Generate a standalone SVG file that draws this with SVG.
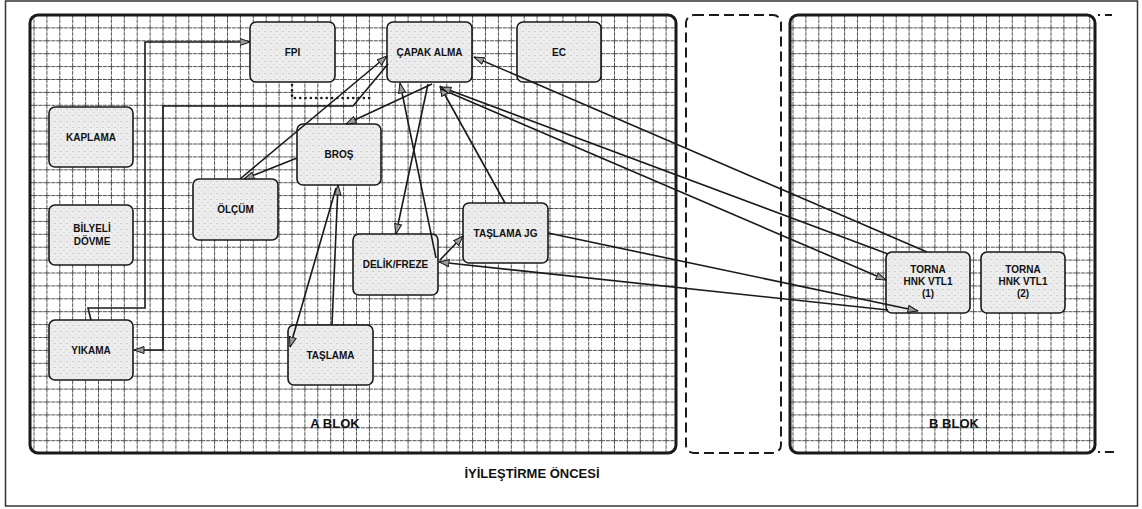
<svg xmlns="http://www.w3.org/2000/svg" width="1142" height="509" viewBox="0 0 1142 509">
<defs>
<style>
.frame{fill:#fff;stroke:#333;stroke-width:1.5}
.blk{stroke:#1a1a1a;stroke-width:3;}
.dash{fill:#fff;stroke:#1a1a1a;stroke-width:2;stroke-dasharray:10 5}
.node rect{fill:url(#stip);stroke:#1a1a1a;stroke-width:1.6}
.lbl{font-family:"Liberation Sans",Arial,sans-serif;font-weight:bold;font-size:10px;fill:#111;text-anchor:middle}
.big{font-family:"Liberation Sans",Arial,sans-serif;font-weight:bold;font-size:13px;fill:#111;text-anchor:middle}
.conn path{fill:none;stroke:#1a1a1a;stroke-width:1.6;marker-end:url(#arr)}
.conn path.dot{stroke-width:2.6;stroke-dasharray:0.1 5.2;stroke-linecap:round;marker-end:none}
</style>
<pattern id="gA" patternUnits="userSpaceOnUse" x="46.4" y="27.4" width="12.9" height="12.9">
<path d="M0,0.5 H12.9 M0.5,0 V12.9" stroke="#4d4d4d" stroke-width="1" stroke-dasharray="4 0.8" fill="none"/>
</pattern>
<pattern id="gB" patternUnits="userSpaceOnUse" x="805.4" y="27.4" width="12.9" height="12.9">
<path d="M0,0.5 H12.9 M0.5,0 V12.9" stroke="#4d4d4d" stroke-width="1" stroke-dasharray="4 0.8" fill="none"/>
</pattern>
<pattern id="stip" patternUnits="userSpaceOnUse" width="6" height="6">
<rect width="6" height="6" fill="#ededed"/>
<circle cx="1" cy="1.5" r="0.5" fill="#9a9a9a"/>
<circle cx="4" cy="4.2" r="0.45" fill="#aaa"/>
<circle cx="4.6" cy="1" r="0.35" fill="#bbb"/>
</pattern>
<marker id="arr" markerUnits="userSpaceOnUse" markerWidth="11" markerHeight="8" refX="10.5" refY="4" orient="auto">
<path d="M0.5,0.5 L10.5,4 L0.5,7.5 z" fill="#9a9a9a" stroke="#1a1a1a" stroke-width="1"/>
</marker>
</defs>

<rect class="frame" x="5.5" y="1" width="1132" height="505"/>

<g id="a-blok">
<rect x="30" y="15" width="646" height="438" rx="8" fill="#fff"/>
<rect x="30" y="15" width="646" height="438" rx="8" fill="url(#gA)" class="blk"/>
<text class="big" x="335" y="428">A BLOK</text>
</g>
<g id="mid-dashed">
<rect class="dash" x="686" y="15" width="95" height="438" rx="8"/>
</g>
<g id="b-blok">
<rect x="790" y="15" width="305" height="438" rx="8" fill="#fff"/>
<rect x="790" y="15" width="305" height="438" rx="8" fill="url(#gB)" class="blk"/>
<text class="big" x="954" y="428">B BLOK</text>
<path d="M1098,15 H1100 M1105,15 H1112 M1098,452 H1100 M1105,452 H1114" stroke="#1a1a1a" stroke-width="2" fill="none"/>
</g>
<text class="big" x="532" y="478">İYİLEŞTİRME ÖNCESİ</text>

<g id="n-fpi" class="node"><rect x="250" y="22" width="85" height="60" rx="6"/><text class="lbl" x="292.5" y="55.5">FPI</text></g>
<g id="n-capak" class="node"><rect x="387" y="22" width="85" height="60" rx="6"/><text class="lbl" x="429.5" y="55.5">ÇAPAK ALMA</text></g>
<g id="n-ec" class="node"><rect x="517" y="22" width="84" height="60" rx="6"/><text class="lbl" x="559" y="55.5">EC</text></g>
<g id="n-kaplama" class="node"><rect x="49" y="107" width="84" height="60" rx="6"/><text class="lbl" x="91" y="140.5">KAPLAMA</text></g>
<g id="n-bilyeli" class="node"><rect x="49" y="205" width="84" height="60" rx="6"/><text class="lbl" x="92" y="231.5">BİLYELİ</text><text class="lbl" x="92" y="244.5">DÖVME</text></g>
<g id="n-yikama" class="node"><rect x="49" y="320" width="84" height="60" rx="6"/><text class="lbl" x="91" y="353.5">YIKAMA</text></g>
<g id="n-bros" class="node"><rect x="297" y="124" width="84" height="61" rx="6"/><text class="lbl" x="339" y="158">BROŞ</text></g>
<g id="n-olcum" class="node"><rect x="193" y="179" width="85" height="61" rx="6"/><text class="lbl" x="235.5" y="213">ÖLÇÜM</text></g>
<g id="n-delik" class="node"><rect x="353" y="234" width="85" height="61" rx="6"/><text class="lbl" x="395.5" y="267.5">DELİK/FREZE</text></g>
<g id="n-taslamajg" class="node"><rect x="463" y="203" width="85" height="60" rx="6"/><text class="lbl" x="505.5" y="237">TAŞLAMA JG</text></g>
<g id="n-taslama" class="node"><rect x="288" y="325" width="85" height="60" rx="6"/><text class="lbl" x="330.5" y="358.5">TAŞLAMA</text></g>
<g id="n-torna1" class="node"><rect x="886" y="252" width="84" height="61" rx="6"/><text class="lbl" x="928" y="273">TORNA</text><text class="lbl" x="928" y="285">HNK VTL1</text><text class="lbl" x="928" y="297">(1)</text></g>
<g id="n-torna2" class="node"><rect x="981" y="252" width="84" height="61" rx="6"/><text class="lbl" x="1023" y="273">TORNA</text><text class="lbl" x="1023" y="285">HNK VTL1</text><text class="lbl" x="1023" y="297">(2)</text></g>

<g id="connectors" class="conn">
<path d="M91,320 L88,308 L145,308 L145,42 L250,42"/>
<path d="M388,64 L353,106 L163,106 L163,350 L134,350"/>
<path class="dot" d="M292,85 L292,98 L372,98"/>
<path d="M240,179 L387,56"/>
<path d="M297,158 L244,179"/>
<path d="M432,84 L346,124"/>
<path d="M428,84 L396,234"/>
<path d="M436,258 L400,83"/>
<path d="M505,203 L440,86"/>
<path d="M332,325 L338,185"/>
<path d="M336,188 L290,347"/>
<path d="M440,260 L463,236"/>
<path d="M888,310 L439,262"/>
<path d="M548,233 L918,311"/>
<path d="M927,252 L474,57"/>
<path d="M441,89 L886,280"/>
<path d="M888,254 L441,87"/>
</g>
</svg>
